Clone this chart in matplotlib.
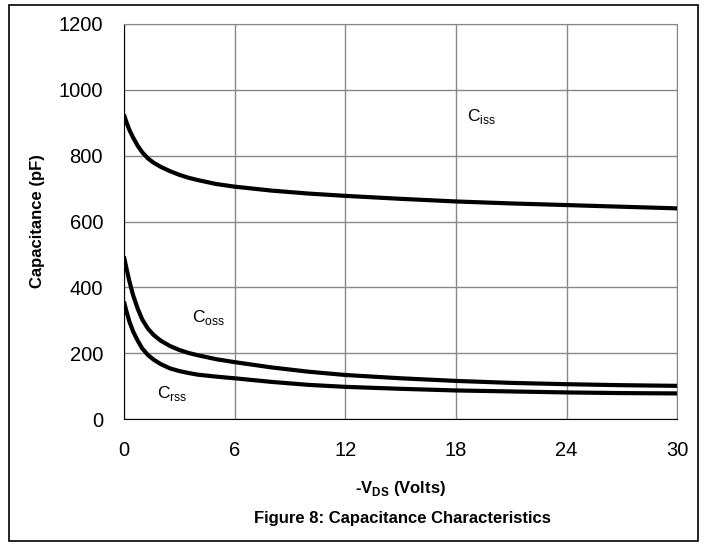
import matplotlib
matplotlib.use("Agg")
import matplotlib.pyplot as plt
from matplotlib.patches import Rectangle

plt.rcParams['font.family'] = ['Liberation Sans', 'DejaVu Sans']

# -VDS (V) and capacitances (pF)
vds = [0, 0.15, 0.3, 0.5, 0.75, 1, 1.3, 1.6, 2, 2.5, 3, 3.5, 4, 5, 6, 8, 10, 12, 15, 18, 21, 24, 27, 30]
ciss = [925, 900, 878, 855, 830, 810, 792, 779, 766, 753, 742, 733, 726, 714, 706,
        694, 685, 678, 669, 661, 655, 650, 645, 640]
coss = [494, 455, 418, 376, 335, 302, 275, 256, 238, 222, 210, 201, 194, 182, 173,
        157, 144, 134, 124, 116, 110, 106, 103, 101]
crss = [357, 325, 296, 266, 238, 214, 195, 181, 167, 154, 146, 140, 135, 129, 124,
        113, 104, 98, 92, 87, 84, 81, 79, 78]

xticks = [0, 6, 12, 18, 24, 30]
yticks = [0, 200, 400, 600, 800, 1000, 1200]

fig = plt.figure(figsize=(7.04, 5.45), dpi=100)
ax = fig.add_axes([0.176, 0.231, 0.786, 0.725])

for series in (ciss, coss, crss):
    ax.plot(vds, series, color='black', lw=3, solid_capstyle='butt',
            solid_joinstyle='round', zorder=3)

ax.set_xlim(0, 30)
ax.set_ylim(0, 1200)
ax.set_xticks(xticks)
ax.set_yticks(yticks)
ax.grid(True, color='#888888', lw=1)
ax.tick_params(length=0, labelsize=14.5)
ax.tick_params(axis='x', pad=16)
ax.tick_params(axis='y', pad=15)
for s in ax.spines.values():
    s.set_color('#888888')
ax.spines['left'].set_color('black')
ax.spines['bottom'].set_color('black')

ax.text(18.6, 905, r'C$_{\mathregular{iss}}$', fontsize=12.5)
ax.text(3.7, 295, r'C$_{\mathregular{oss}}$', fontsize=12.5)
ax.text(1.8, 65, r'C$_{\mathregular{rss}}$', fontsize=12.5)

ax.set_ylabel('Capacitance (pF)', fontsize=12, fontweight='bold')
ax.yaxis.set_label_coords(-0.142, 0.5)
ax.set_xlabel(r'-V$_{\mathregular{DS}}$ (Volts)', fontsize=12, fontweight='bold', va='center')
ax.xaxis.set_label_coords(0.5, -0.175)
fig.text(0.572, 0.049, 'Figure 8: Capacitance Characteristics', ha='center', va='center',
         fontsize=12, fontweight='bold')

fig.patches.append(Rectangle((0.013, 0.007), 0.978, 0.983, transform=fig.transFigure,
                             fill=False, edgecolor='black', lw=1.2))

fig.savefig('out.png', dpi=100)
